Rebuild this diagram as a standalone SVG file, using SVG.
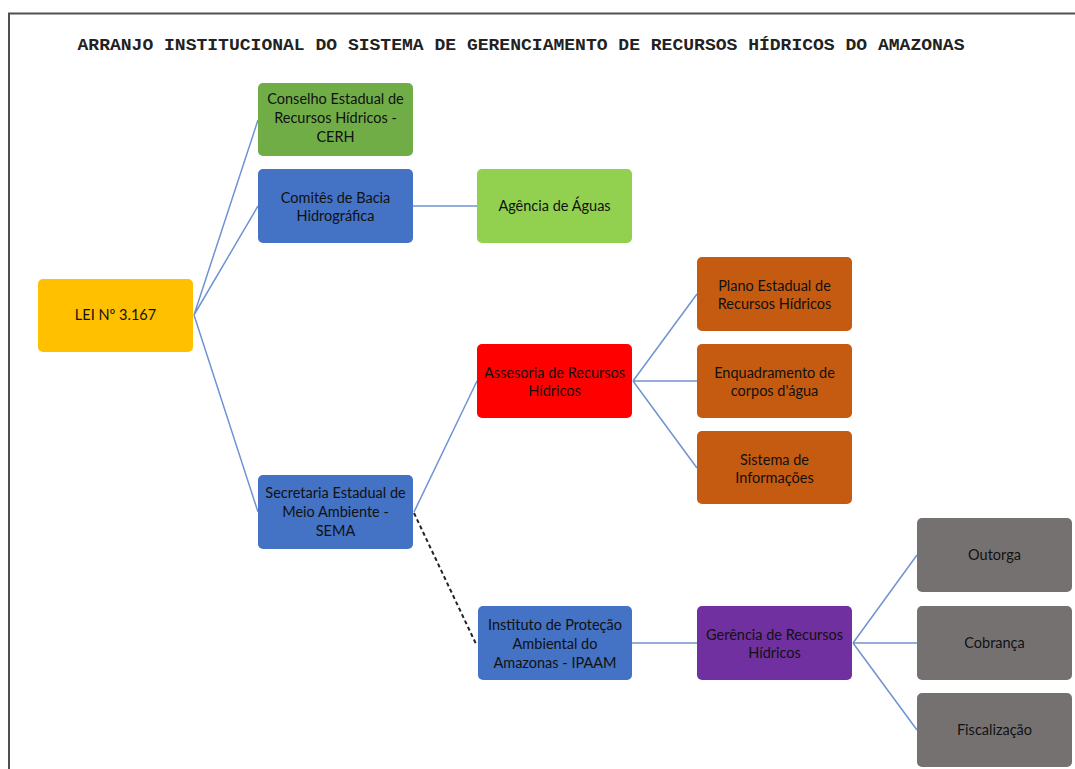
<svg xmlns="http://www.w3.org/2000/svg" width="1075" height="769" viewBox="0 0 1075 769">
<style>
.t{font-family:Lato,"Open Sans",sans-serif;font-size:14.5px;fill:#111;text-anchor:middle}
.c{stroke:#6f93d2;stroke-width:1.5;fill:none}
.d{stroke:#222;stroke-width:2;stroke-dasharray:4 3;fill:none}
</style>
<rect x="0" y="0" width="1075" height="769" fill="#fff"/>
<path d="M9,769 V13.5 H1075" fill="none" stroke="#505050" stroke-width="2"/>
<text x="521" y="50" font-family="Liberation Mono,monospace" font-weight="bold" font-size="17" text-anchor="middle" fill="#222" textLength="887" lengthAdjust="spacingAndGlyphs">ARRANJO INSTITUCIONAL DO SISTEMA DE GERENCIAMENTO DE RECURSOS HÍDRICOS DO AMAZONAS</text>
<g id="connectors">
<path class="c" d="M194,315 L258,120 M194,315 L258,206 M194,315 L258,512"/>
<path class="c" d="M413,206 H477"/>
<path class="c" d="M414,512 L477,381"/>
<path class="d" d="M414,513 L476,644"/>
<path class="c" d="M633,381 L697,294 M633,381 H697 M633,381 L697,468"/>
<path class="c" d="M632,643 H697"/>
<path class="c" d="M853,643 L917,555 M853,643 H917 M853,643 L917,730"/>
</g>
<g id="lei"><rect x="38" y="279" width="155" height="73" rx="5" fill="#ffc000"/><text class="t" x="115.5" y="320">LEI Nº 3.167</text></g>
<g id="cerh"><rect x="258" y="83" width="155" height="73" rx="5" fill="#70ad47"/><text class="t" x="335.5" y="104">Conselho Estadual de</text><text class="t" x="335.5" y="123">Recursos Hídricos -</text><text class="t" x="335.5" y="142">CERH</text></g>
<g id="comites"><rect x="258" y="169" width="155" height="74" rx="5" fill="#4472c4"/><text class="t" x="335.5" y="203">Comitês de Bacia</text><text class="t" x="335.5" y="221">Hidrográfica</text></g>
<g id="agencia"><rect x="477" y="169" width="155" height="74" rx="5" fill="#92d050"/><text class="t" x="554.5" y="211">Agência de Águas</text></g>
<g id="sema"><rect x="258" y="475" width="155" height="74" rx="5" fill="#4472c4"/><text class="t" x="335.5" y="498">Secretaria Estadual de</text><text class="t" x="335.5" y="517">Meio Ambiente -</text><text class="t" x="335.5" y="536">SEMA</text></g>
<g id="assesoria"><rect x="477" y="344" width="155" height="74" rx="5" fill="#ff0000"/><text class="t" x="554.5" y="378">Assesoria de Recursos</text><text class="t" x="554.5" y="396">Hídricos</text></g>
<g id="plano"><rect x="697" y="257" width="155" height="74" rx="5" fill="#c55a11"/><text class="t" x="774.5" y="291">Plano Estadual de</text><text class="t" x="774.5" y="309">Recursos Hídricos</text></g>
<g id="enquadramento"><rect x="697" y="344" width="155" height="74" rx="5" fill="#c55a11"/><text class="t" x="774.5" y="378">Enquadramento de</text><text class="t" x="774.5" y="396">corpos d'água</text></g>
<g id="sistema"><rect x="697" y="431" width="155" height="73" rx="5" fill="#c55a11"/><text class="t" x="774.5" y="465">Sistema de</text><text class="t" x="774.5" y="483">Informações</text></g>
<g id="ipaam"><rect x="478" y="606" width="154" height="74" rx="5" fill="#4472c4"/><text class="t" x="555" y="630">Instituto de Proteção</text><text class="t" x="555" y="649">Ambiental do</text><text class="t" x="555" y="668">Amazonas - IPAAM</text></g>
<g id="gerencia"><rect x="697" y="606" width="155" height="74" rx="5" fill="#7030a0"/><text class="t" x="774.5" y="640">Gerência de Recursos</text><text class="t" x="774.5" y="658">Hídricos</text></g>
<g id="outorga"><rect x="917" y="518" width="155" height="74" rx="5" fill="#767171"/><text class="t" x="994.5" y="560">Outorga</text></g>
<g id="cobranca"><rect x="917" y="606" width="155" height="74" rx="5" fill="#767171"/><text class="t" x="994.5" y="648">Cobrança</text></g>
<g id="fiscalizacao"><rect x="917" y="693" width="155" height="74" rx="5" fill="#767171"/><text class="t" x="994.5" y="735">Fiscalização</text></g>
</svg>
